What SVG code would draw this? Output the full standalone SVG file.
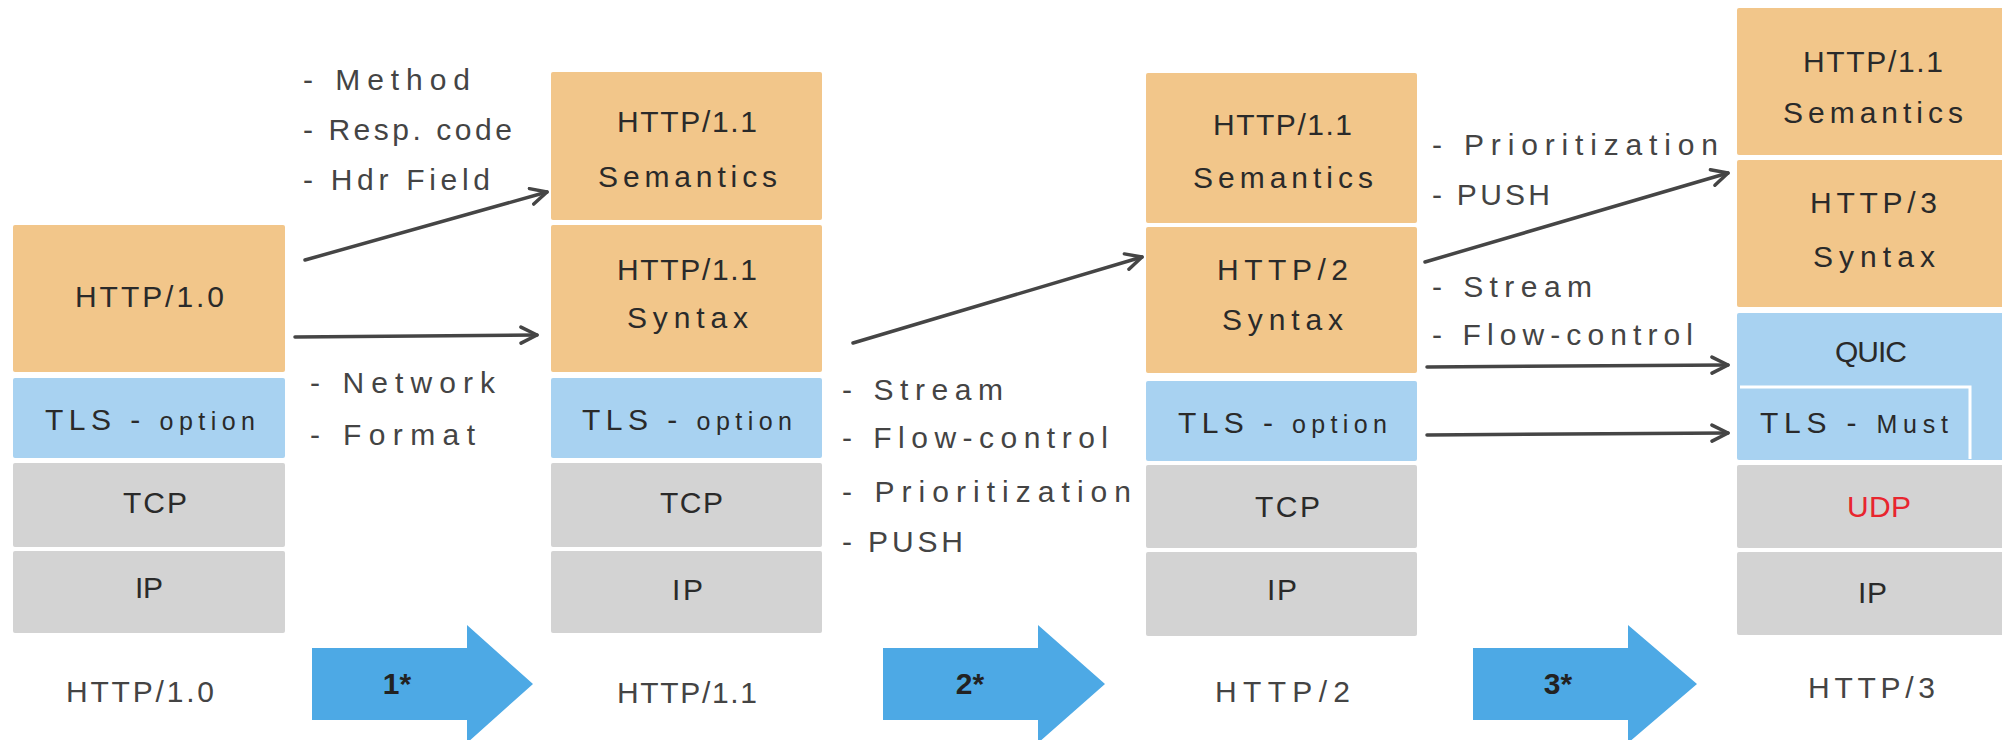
<svg xmlns="http://www.w3.org/2000/svg" width="2002" height="740" viewBox="0 0 2002 740">
<defs>
<style>
.bg{fill:#ffffff}
.o{fill:#F2C68A}
.b{fill:#A8D2F1}
.g{fill:#D3D3D3}
.t{font-family:"Liberation Sans",Arial,sans-serif;font-size:30px;fill:#2a2a2a}
.s{font-size:25px}
.l{font-family:"Liberation Sans",Arial,sans-serif;font-size:30px;fill:#444444}
.big{fill:#4DA9E5}
.bt{font-family:"Liberation Sans",Arial,sans-serif;font-size:30px;font-weight:bold;fill:#222222;text-anchor:middle}
.c{fill:none;stroke:#454545;stroke-width:3.5;stroke-linecap:round}
.red{fill:#E8252E}
</style>
<marker id="ah" viewBox="0 0 20 20" refX="18" refY="10" markerWidth="20" markerHeight="20" markerUnits="userSpaceOnUse" orient="auto">
<path d="M2,2 L18,10 L2,18" fill="none" stroke="#454545" stroke-width="3.5" stroke-linecap="round" stroke-linejoin="round"/>
</marker>
</defs>
<rect class="bg" x="0" y="0" width="2002" height="740"/>

<g id="col1">
<g id="http10"><rect class="o" x="13" y="225" width="272" height="147" rx="2"/><text class="t" x="75" y="307" textLength="149" lengthAdjust="spacing">HTTP/1.0</text></g>
<g id="tls1"><rect class="b" x="13" y="378" width="272" height="80" rx="2"/><text class="t" x="45" y="430" textLength="210" lengthAdjust="spacing">TLS - <tspan class="s">option</tspan></text></g>
<g id="tcp1"><rect class="g" x="13" y="463" width="272" height="84" rx="2"/><text class="t" x="123" y="513" textLength="64" lengthAdjust="spacing">TCP</text></g>
<g id="ip1"><rect class="g" x="13" y="551" width="272" height="82" rx="2"/><text class="t" x="135" y="598" textLength="28" lengthAdjust="spacing">IP</text></g>
<text class="l" x="66" y="702" textLength="148" lengthAdjust="spacing">HTTP/1.0</text>
</g>

<g id="col2">
<g id="sem2"><rect class="o" x="551" y="72" width="271" height="148" rx="2"/><text class="t" x="617" y="132" textLength="140" lengthAdjust="spacing">HTTP/1.1</text><text class="t" x="598" y="187" textLength="179" lengthAdjust="spacing">Semantics</text></g>
<g id="syn2"><rect class="o" x="551" y="225" width="271" height="147" rx="2"/><text class="t" x="617" y="280" textLength="140" lengthAdjust="spacing">HTTP/1.1</text><text class="t" x="627" y="328" textLength="121" lengthAdjust="spacing">Syntax</text></g>
<g id="tls2"><rect class="b" x="551" y="378" width="271" height="80" rx="2"/><text class="t" x="582" y="430" textLength="210" lengthAdjust="spacing">TLS - <tspan class="s">option</tspan></text></g>
<g id="tcp2"><rect class="g" x="551" y="463" width="271" height="84" rx="2"/><text class="t" x="660" y="513" textLength="63" lengthAdjust="spacing">TCP</text></g>
<g id="ip2"><rect class="g" x="551" y="551" width="271" height="82" rx="2"/><text class="t" x="672" y="600" textLength="31" lengthAdjust="spacing">IP</text></g>
<text class="l" x="617" y="703" textLength="140" lengthAdjust="spacing">HTTP/1.1</text>
</g>

<g id="col3">
<g id="sem3"><rect class="o" x="1146" y="73" width="271" height="150" rx="2"/><text class="t" x="1213" y="135" textLength="139" lengthAdjust="spacing">HTTP/1.1</text><text class="t" x="1193" y="188" textLength="180" lengthAdjust="spacing">Semantics</text></g>
<g id="syn3"><rect class="o" x="1146" y="227" width="271" height="146" rx="2"/><text class="t" x="1217" y="280" textLength="131" lengthAdjust="spacing">HTTP/2</text><text class="t" x="1222" y="330" textLength="121" lengthAdjust="spacing">Syntax</text></g>
<g id="tls3"><rect class="b" x="1146" y="381" width="271" height="80" rx="2"/><text class="t" x="1178" y="433" textLength="209" lengthAdjust="spacing">TLS - <tspan class="s">option</tspan></text></g>
<g id="tcp3"><rect class="g" x="1146" y="465" width="271" height="83" rx="2"/><text class="t" x="1255" y="517" textLength="65" lengthAdjust="spacing">TCP</text></g>
<g id="ip3"><rect class="g" x="1146" y="552" width="271" height="84" rx="2"/><text class="t" x="1267" y="600" textLength="30" lengthAdjust="spacing">IP</text></g>
<text class="l" x="1215" y="702" textLength="135" lengthAdjust="spacing">HTTP/2</text>
</g>

<g id="col4">
<g id="sem4"><rect class="o" x="1737" y="8" width="272" height="147" rx="2"/><text class="t" x="1803" y="72" textLength="140" lengthAdjust="spacing">HTTP/1.1</text><text class="t" x="1783" y="123" textLength="180" lengthAdjust="spacing">Semantics</text></g>
<g id="syn4"><rect class="o" x="1737" y="160" width="272" height="147" rx="2"/><text class="t" x="1810" y="213" textLength="127" lengthAdjust="spacing">HTTP/3</text><text class="t" x="1813" y="267" textLength="122" lengthAdjust="spacing">Syntax</text></g>
<g id="quic4"><rect class="b" x="1737" y="313" width="272" height="147" rx="2"/><text class="t" x="1835" y="362" textLength="72" lengthAdjust="spacing">QUIC</text></g>
<g id="tls4"><rect class="b" x="1740" y="388" width="230" height="70"/><polyline points="1740,387 1970,387 1970,459" fill="none" stroke="#ffffff" stroke-width="3"/><text class="t" x="1760" y="433" textLength="188" lengthAdjust="spacing">TLS - <tspan class="s">Must</tspan></text></g>
<g id="udp4"><rect class="g" x="1737" y="465" width="272" height="83" rx="2"/><text class="t red" x="1847" y="517" textLength="64" lengthAdjust="spacing">UDP</text></g>
<g id="ip4"><rect class="g" x="1737" y="552" width="272" height="83" rx="2"/><text class="t" x="1858" y="603" textLength="29" lengthAdjust="spacing">IP</text></g>
<text class="l" x="1808" y="698" textLength="127" lengthAdjust="spacing">HTTP/3</text>
</g>

<g id="labels">
<text class="l" x="303" y="90" textLength="167" lengthAdjust="spacing">- Method</text>
<text class="l" x="303" y="140" textLength="209" lengthAdjust="spacing">- Resp. code</text>
<text class="l" x="303" y="190" textLength="187" lengthAdjust="spacing">- Hdr Field</text>
<text class="l" x="310" y="393" textLength="185" lengthAdjust="spacing">- Network</text>
<text class="l" x="310" y="445" textLength="165" lengthAdjust="spacing">- Format</text>
<text class="l" x="842" y="400" textLength="161" lengthAdjust="spacing">- Stream</text>
<text class="l" x="842" y="448" textLength="266" lengthAdjust="spacing">- Flow-control</text>
<text class="l" x="842" y="502" textLength="289" lengthAdjust="spacing">- Prioritization</text>
<text class="l" x="842" y="552" textLength="121" lengthAdjust="spacing">- PUSH</text>
<text class="l" x="1432" y="155" textLength="286" lengthAdjust="spacing">- Prioritization</text>
<text class="l" x="1432" y="205" textLength="118" lengthAdjust="spacing">- PUSH</text>
<text class="l" x="1432" y="297" textLength="160" lengthAdjust="spacing">- Stream</text>
<text class="l" x="1432" y="345" textLength="261" lengthAdjust="spacing">- Flow-control</text>
</g>

<g id="steps">
<g id="step1"><polygon class="big" points="312,648 467,648 467,625 533,684 467,743 467,720 312,720"/><text class="bt" x="397" y="694">1*</text></g>
<g id="step2"><polygon class="big" points="883,648 1038,648 1038,625 1105,684 1038,743 1038,720 883,720"/><text class="bt" x="970" y="694">2*</text></g>
<g id="step3"><polygon class="big" points="1473,648 1628,648 1628,625 1697,684 1628,743 1628,720 1473,720"/><text class="bt" x="1558" y="694">3*</text></g>
</g>

<g id="connectors">
<line class="c" x1="305" y1="260" x2="547" y2="192" marker-end="url(#ah)"/>
<line class="c" x1="295" y1="337" x2="537" y2="335" marker-end="url(#ah)"/>
<line class="c" x1="853" y1="343" x2="1142" y2="257" marker-end="url(#ah)"/>
<line class="c" x1="1425" y1="262" x2="1728" y2="173" marker-end="url(#ah)"/>
<line class="c" x1="1427" y1="367" x2="1728" y2="365" marker-end="url(#ah)"/>
<line class="c" x1="1427" y1="435" x2="1728" y2="433" marker-end="url(#ah)"/>
</g>
</svg>
